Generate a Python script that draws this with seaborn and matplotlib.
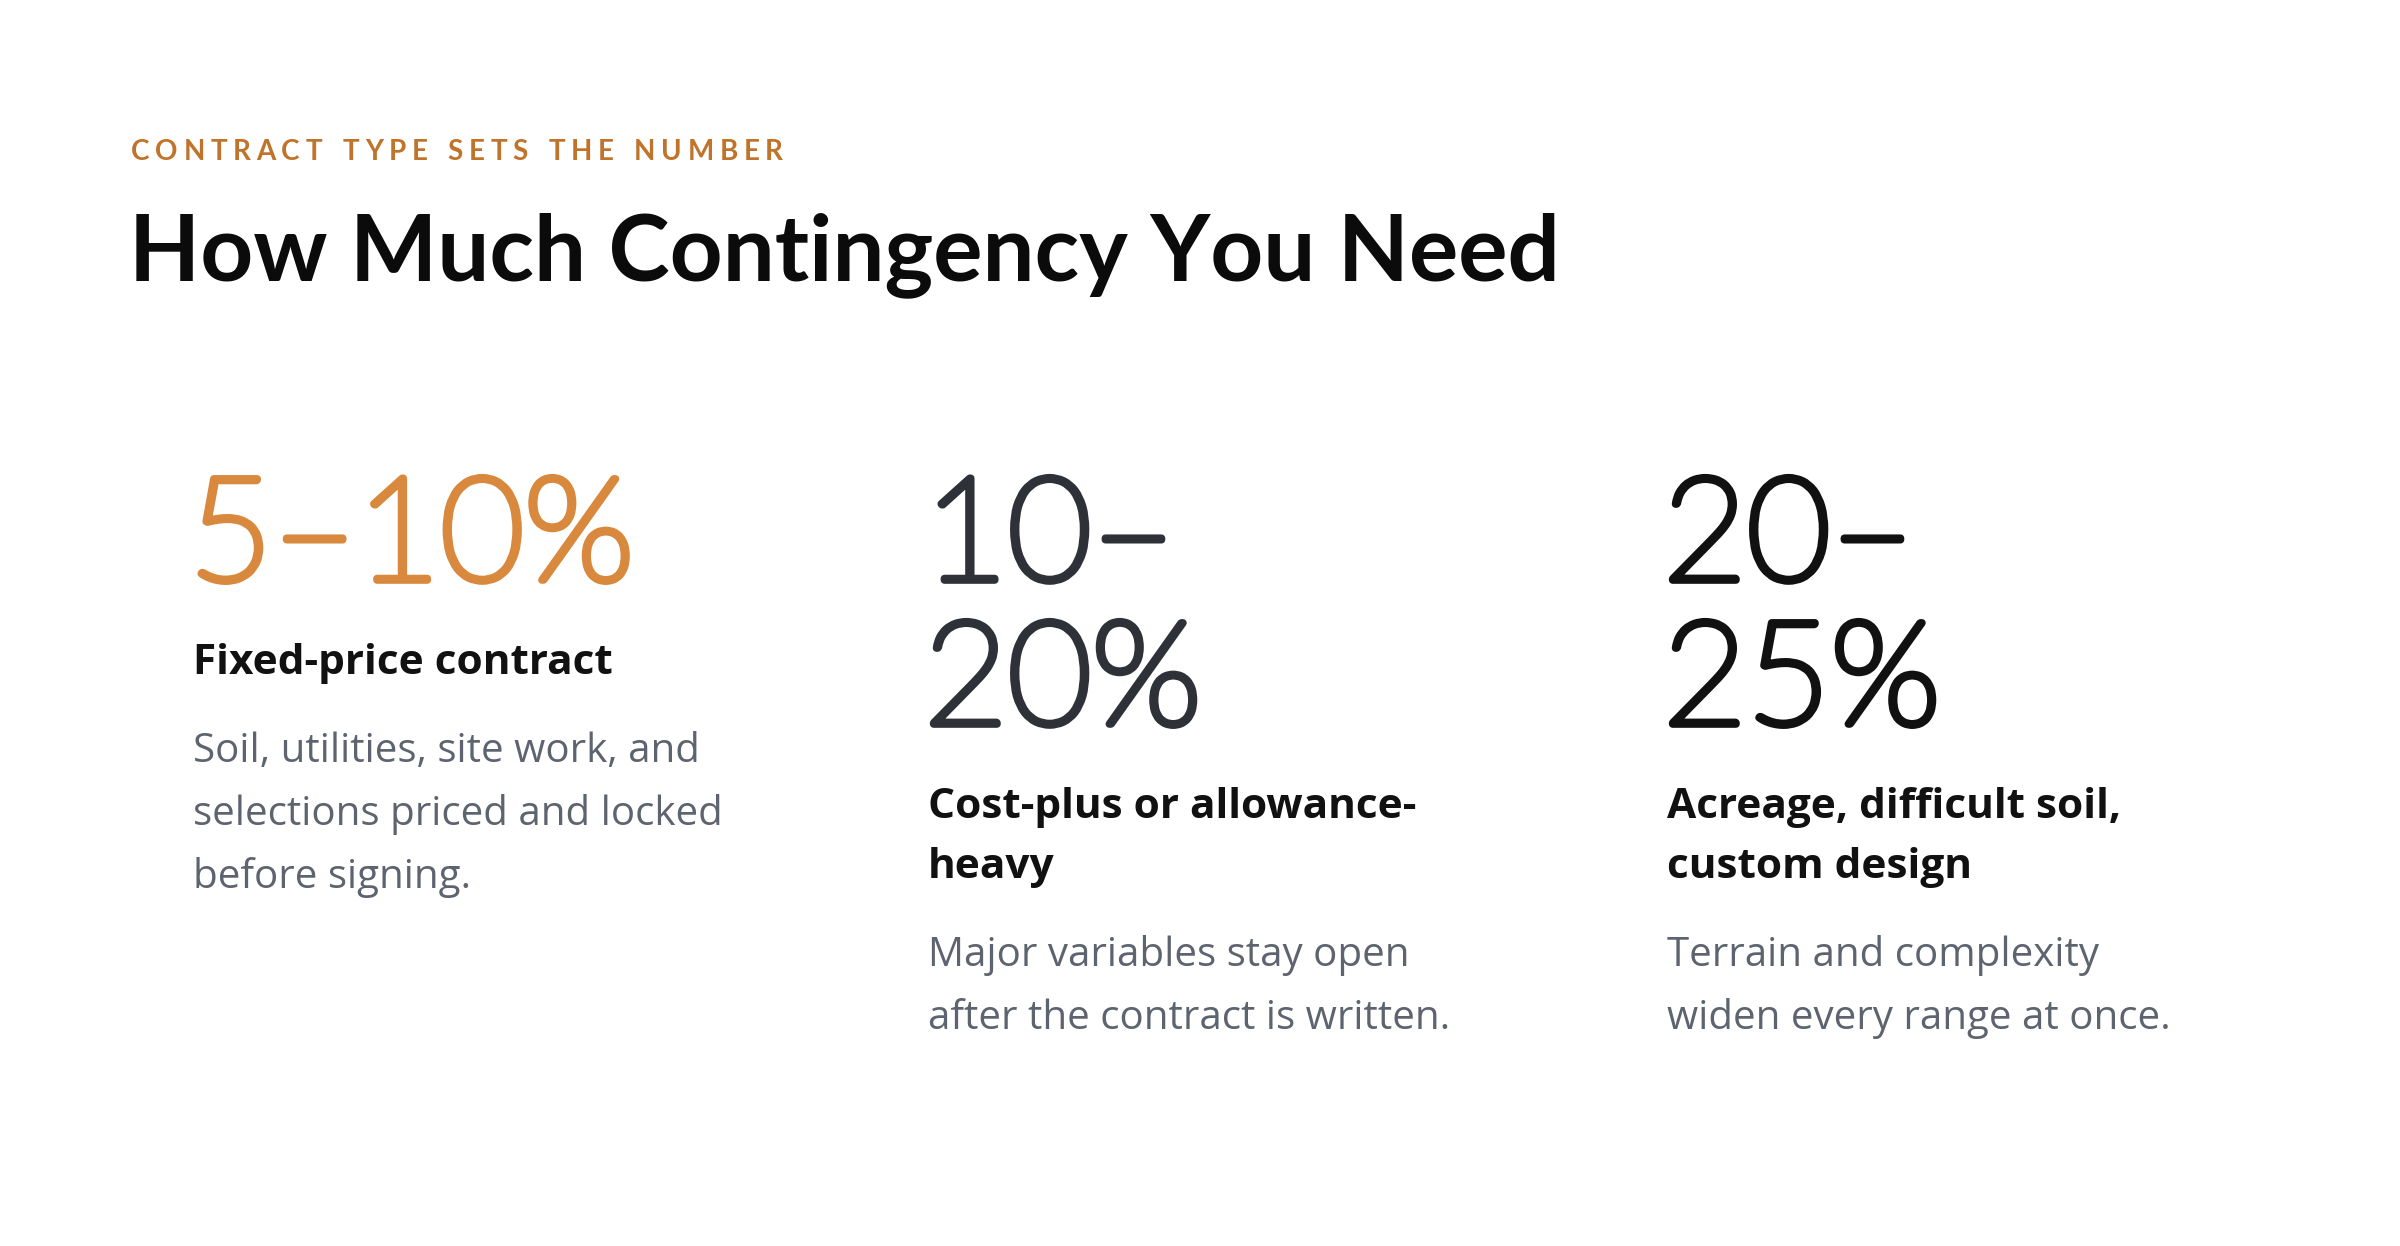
import matplotlib
matplotlib.use("Agg")
import matplotlib.pyplot as plt
import matplotlib.patheffects as pe
import seaborn as sns

# данные карточек
kicker = "CONTRACT TYPE SETS THE NUMBER"
title = "How Much Contingency You Need"
range_low = [5, 10, 20]
range_high = [10, 20, 25]
break_number = [False, True, True]  # переносить ли число после тире
headings = [
    ["Fixed-price contract"],
    ["Cost-plus or allowance-", "heavy"],
    ["Acreage, difficult soil,", "custom design"],
]
descriptions = [
    ["Soil, utilities, site work, and", "selections priced and locked", "before signing."],
    ["Major variables stay open", "after the contract is written."],
    ["Terrain and complexity", "widen every range at once."],
]
number_colors = ["#D9893D", "#2E3238", "#111111"]

sns.set_theme(style="white")
plt.rcParams["font.family"] = ["Lato", "DejaVu Sans"]

W, H = 2400, 1246
fig = plt.figure(figsize=(W / 100, H / 100), dpi=100)
fig.patch.set_facecolor("white")
ax = fig.add_axes([0, 0, 1, 1])
ax.set_xlim(0, W)
ax.set_ylim(H, 0)
ax.axis("off")
renderer = fig.canvas.get_renderer()

# надзаголовок с разрядкой букв
x = 131
target_width = 652
parts = [ax.text(0, 0, ch, fontsize=20, fontweight="bold") for ch in kicker]
widths = [p.get_window_extent(renderer).width if ch != " " else 0 for p, ch in zip(parts, kicker)]
for p in parts:
    p.remove()
space_w = 9
natural = sum(widths) + space_w * kicker.count(" ")
tracking = (target_width - natural) / (len(kicker) - 1)
for ch, w in zip(kicker, widths):
    if ch != " ":
        ax.text(x, 160, ch, fontsize=20, fontweight="bold", color="#C0732A", va="baseline")
        x += w + tracking
    else:
        x += space_w + tracking

ax.text(129, 280, title, fontsize=66.5, fontweight="bold", color="#0B0B0B", va="baseline")

body_font = ["Open Sans", "DejaVu Sans"]
col_x = [193, 928, 1667]
for i in range(3):
    cx = col_x[i]
    if break_number[i]:
        lines = [f"{range_low[i]}–", f"{range_high[i]}%"]
    else:
        lines = [f"{range_low[i]}–{range_high[i]}%"]
    y = 580
    for j, line in enumerate(lines):
        t = ax.text(cx - 4, y, line, fontsize=104, fontweight="light", color=number_colors[i], va="baseline")
        # тонкий шрифт утолщаем обводкой
        t.set_path_effects([pe.Stroke(linewidth=5.5, foreground=number_colors[i]), pe.Normal()])
        if j < len(lines) - 1:
            y += 144
    y += 94
    for j, line in enumerate(headings[i]):
        ax.text(cx, y, line, fontsize=30.5, fontweight="bold", color="#111111",
                va="baseline", family=body_font)
        if j < len(headings[i]) - 1:
            y += 60
    y += 88
    for line in descriptions[i]:
        ax.text(cx, y, line, fontsize=29, color="#5D6470", va="baseline", family=body_font)
        y += 63

fig.savefig("out.png", dpi=100, facecolor="white")
plt.close(fig)
